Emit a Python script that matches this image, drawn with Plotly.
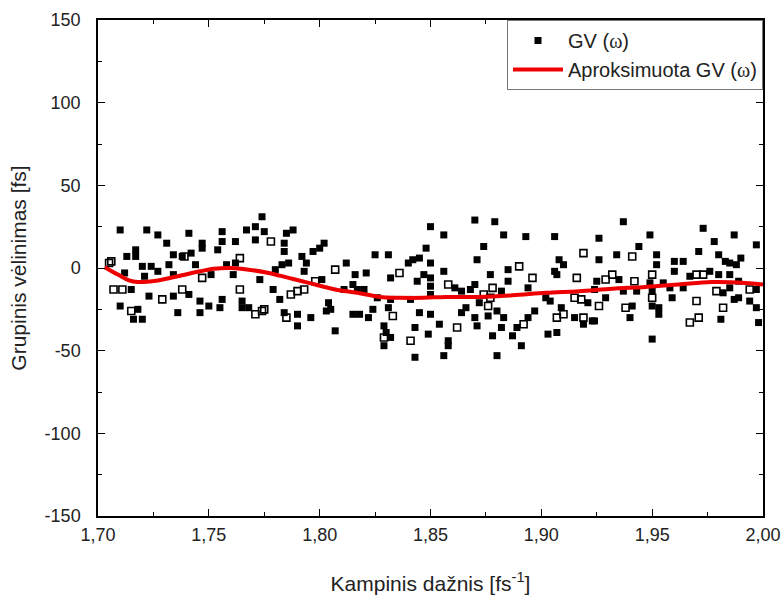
import plotly.graph_objects as go

# Filled measured points
gv_x = [1.710,1.722,1.727,1.731,1.741,1.756,1.756,1.747,1.747,1.754,1.762,1.767,1.771,1.771,1.774,1.775,
        1.717,1.713,1.717,1.734,1.738,1.742,1.720,1.724,1.727,1.732,1.744,1.758,1.762,1.712,1.721,1.734,
        1.751,1.761,1.773,1.715,1.723,1.734,1.741,1.710,1.718,1.716,1.720,1.736,1.746,1.746,1.750,1.755,
        1.756,1.765,1.765,1.768,
        1.785,1.788,1.784,1.784,1.792,1.797,1.800,1.802,1.794,1.783,1.786,1.780,1.793,1.812,1.816,1.821,
        1.825,1.831,1.832,1.840,1.842,1.845,1.848,1.850,1.850,1.844,1.847,1.850,1.801,1.779,1.782,1.811,
        1.815,1.817,1.820,1.826,1.832,1.841,1.850,1.804,1.803,1.805,1.815,1.818,1.824,1.831,1.845,1.850,
        1.784,1.790,1.790,1.796,1.807,1.822,1.829,1.830,1.832,1.829,1.843,1.849,1.843,
        1.870,1.879,1.856,1.883,1.893,1.906,1.874,1.871,1.908,1.910,1.856,1.877,1.885,1.906,1.907,1.861,
        1.864,1.870,1.868,1.885,1.894,1.882,1.872,1.902,1.904,1.921,1.924,1.850,1.866,1.864,1.870,1.876,
        1.880,1.883,1.897,1.894,1.889,1.909,1.915,1.919,1.923,1.854,1.871,1.882,1.878,1.887,1.903,1.907,
        1.858,1.858,1.856,1.891,1.880,
        1.937,1.926,1.949,1.973,1.987,1.944,1.978,1.997,1.934,1.952,1.971,1.926,1.960,1.964,1.980,1.983,
        1.985,1.990,1.988,1.952,1.960,1.976,1.980,1.985,1.935,1.925,1.949,1.955,1.967,1.989,1.958,1.964,
        1.943,1.937,1.950,1.985,1.997,1.929,1.959,1.982,1.989,1.987,1.994,1.941,1.953,1.950,1.997,1.953,
        1.940,1.924,1.981,1.998,1.950]
gv_y = [23,23,20,15,21,22,16,15,12,11,16,23,25,17,31,22,
        11,7,7,8,7,9,1,1,-2,2,2,2,3,-3,-5,-4,
        -4,-4,-7,-13,-17,-17,-16,-23,-25,-31,-31,-27,-20,-27,-23,-24,
        -19,-20,-24,-24,
        21,23,15,10,7,10,12,15,3,2,3,-1,-2,3,-4,-3,
        8,8,-6,3,5,6,12,25,3,-8,-4,-6,-7,-13,-19,-13,
        -10,-13,-13,-18,-19,-19,-11,-21,-26,-25,-28,-28,-25,-24,-27,-28,
        -27,-28,-35,-30,-38,-30,-35,-39,-42,-47,-36,-40,-54,
        29,28,20,20,19,19,13,5,5,2,-2,-4,-1,-2,-4,-12,
        -14,-10,-13,-8,-12,-14,-21,-18,-20,-21,-13,-16,-24,-27,-30,-29,
        -26,-30,-26,-30,-36,-24,-30,-34,-32,-34,-35,-36,-41,-41,-40,-39,
        -44,-47,-53,-47,-53,
        28,18,20,24,20,13,16,14,8,8,10,5,4,4,8,4,
        3,6,2,2,-2,-2,-4,-4,-7,-8,-9,-9,-5,-8,-12,-12,
        -14,-14,-14,-12,-13,-18,-18,-15,-18,-19,-20,-23,-24,-23,-24,-28,
        -30,-32,-31,-33,-43]

# Points that appear as open squares in the picture
gv_open_x = [1.706,1.705,1.739,1.764,1.747,1.707,1.711,1.729,1.738,1.764,1.715,1.771,1.774,1.778,1.807,
             1.836,1.798,1.793,1.790,1.787,1.775,1.785,1.833,1.829,1.841,1.919,1.890,1.916,1.858,1.896,
             1.878,1.874,1.877,1.876,1.915,1.918,1.892,1.910,1.907,1.919,1.862,1.941,1.970,1.973,1.950,
             1.932,1.929,1.942,1.994,1.950,1.979,1.926,1.938,1.970,1.982,1.971,1.967]
gv_open_y = [4,3,7,6,-6,-13,-13,-19,-13,-13,-26,-28,-26,16,-1,
             -3,-8,-13,-14,-16,-25,-30,-29,-42,-44,9,1,-6,-10,-6,
             -12,-16,-18,-23,-18,-19,-34,-28,-30,-30,-36,7,-4,-4,-4,
             -4,-7,-8,-13,-18,-14,-23,-24,-20,-24,-30,-33]

# Approximating curve
fit_x = [1.703,1.709,1.714,1.718,1.727,1.736,1.746,1.752,1.760,1.768,1.777,1.786,1.795,1.807,1.817,
         1.827,1.836,1.847,1.857,1.872,1.887,1.902,1.917,1.932,1.947,1.962,1.977,1.992,2.000]
fit_y = [0.5,-4,-7.5,-8.5,-7.5,-5,-2,-0.5,0,-1,-3,-6,-9,-13,-15,
         -17.5,-18,-18,-17.5,-17.5,-16.5,-15,-14,-12.5,-11.5,-10,-8.5,-9,-10]

x_ticks = [1.70,1.75,1.80,1.85,1.90,1.95,2.00]
x_labels = ["1,70","1,75","1,80","1,85","1,90","1,95","2,00"]
x_minor = [1.725,1.775,1.825,1.875,1.925,1.975]
y_ticks = [-150,-100,-50,0,50,100,150]
y_labels = ["-150","-100","-50","0","50","100","150"]
y_minor = [-125,-75,-25,25,75,125]

FONT = "Liberation Sans, Arial, sans-serif"
omega = "<span style='font-family:Liberation Serif'>ω</span>"

fig = go.Figure()
fig.add_trace(go.Scatter(x=gv_x, y=gv_y, mode="markers", name="GV (" + omega + ")",
                         marker=dict(symbol="square", size=7, color="black")))
fig.add_trace(go.Scatter(x=gv_open_x, y=gv_open_y, mode="markers", showlegend=False,
                         marker=dict(symbol="square-open", size=7, color="black",
                                     line=dict(width=1.6, color="black"))))
fig.add_trace(go.Scatter(x=fit_x, y=fit_y, mode="lines", name="Aproksimuota GV (" + omega + ")",
                         line=dict(color="#ee0000", width=4, shape="spline")))

axis_common = dict(showline=True, linecolor="black", linewidth=1.5, mirror="ticks",
                   ticks="inside", ticklen=7, tickwidth=1.2, tickcolor="black",
                   showgrid=False, zeroline=False, automargin=False,
                   tickfont=dict(family=FONT, size=18, color="#222"))

fig.update_xaxes(range=[1.70, 2.00], tickmode="array", tickvals=x_ticks, ticktext=x_labels,
                 minor=dict(tickmode="array", tickvals=x_minor, ticks="inside", ticklen=4,
                            tickcolor="black", tickwidth=1.2),
                 title=dict(text="Kampinis dažnis [fs<sup>-1</sup>]",
                            font=dict(family=FONT, size=21, color="#222"), standoff=32),
                 ticklabelstandoff=2, **axis_common)
fig.update_yaxes(range=[-150, 150], tickmode="array", tickvals=y_ticks, ticktext=y_labels,
                 minor=dict(tickmode="array", tickvals=y_minor, ticks="inside", ticklen=4,
                            tickcolor="black", tickwidth=1.2),
                 title=dict(text="Grupinis vėlinimas [fs]",
                            font=dict(family=FONT, size=21, color="#222"), standoff=12),
                 ticklabelstandoff=12, **axis_common)

fig.update_layout(
    width=784, height=596,
    margin=dict(l=98, r=21, t=20, b=80),
    plot_bgcolor="white", paper_bgcolor="white",
    font=dict(family=FONT, size=18, color="#222"),
    showlegend=True,
    legend=dict(x=1.0, y=1.0, xanchor="right", yanchor="top",
                bgcolor="white", bordercolor="#777", borderwidth=1,
                font=dict(family=FONT, size=20, color="#222"),
                itemwidth=50, tracegroupgap=2),
)

fig.write_html("out.html")
